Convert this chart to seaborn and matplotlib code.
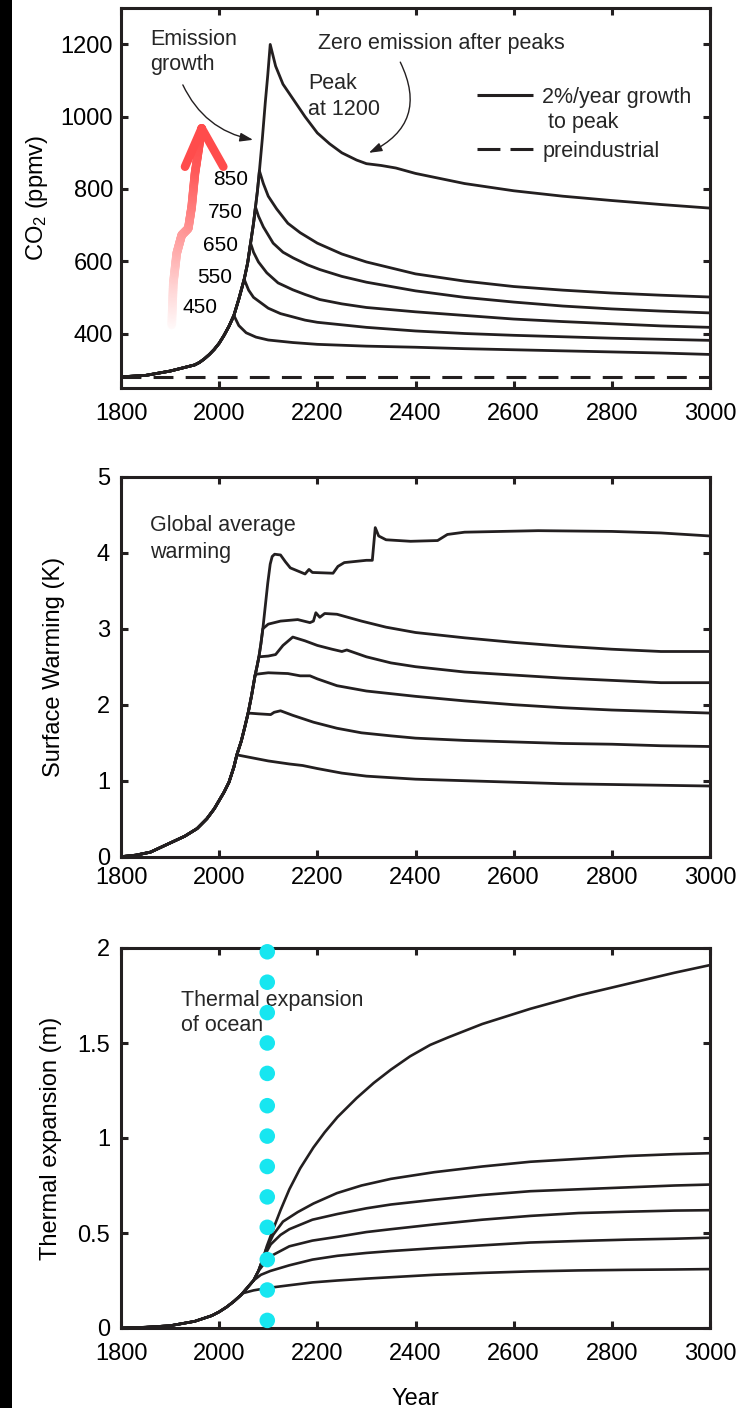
import numpy as np
import matplotlib
matplotlib.use("Agg")
import matplotlib.pyplot as plt
import seaborn as sns
from matplotlib.collections import LineCollection
from matplotlib.colors import LinearSegmentedColormap
from matplotlib.patches import Rectangle

# ---------------- data ----------------
years_ticks = [1800, 2000, 2200, 2400, 2600, 2800, 3000]

# CO2 (ppmv): shared emission-growth path, then decay after each peak
co2_growth_year = [1800, 1850, 1900, 1950, 1960, 1970, 1980, 1990, 2000, 2010, 2020,
                   2030, 2040, 2051, 2058, 2064, 2070, 2074, 2078, 2082, 2088, 2094, 2099, 2104]
co2_growth_ppm = [280, 284, 296, 313, 320, 330, 342, 356, 373, 395, 420,
                  450, 495, 550, 595, 650, 705, 750, 795, 850, 940, 1040, 1115, 1200]
co2_peak_ppm = [450, 550, 650, 750, 850, 1200]
co2_peak_year = [2030, 2051, 2064, 2074, 2082, 2104]
co2_decay_year = [
    [2040, 2055, 2075, 2100, 2150, 2200, 2300, 2400, 2500, 2600, 2700, 2800, 2900, 3000],
    [2060, 2070, 2085, 2100, 2125, 2150, 2175, 2200, 2300, 2400, 2500, 2600, 2700, 2800, 2900, 3000],
    [2070, 2080, 2097, 2120, 2150, 2175, 2205, 2250, 2300, 2400, 2500, 2600, 2700, 2800, 2900, 3000],
    [2080, 2090, 2110, 2130, 2151, 2180, 2205, 2250, 2300, 2400, 2500, 2600, 2700, 2800, 2900, 3000],
    [2090, 2100, 2117, 2140, 2165, 2200, 2250, 2300, 2400, 2500, 2600, 2700, 2800, 2900, 3000],
    [2115, 2130, 2150, 2175, 2200, 2225, 2250, 2280, 2300, 2330, 2360, 2400, 2450, 2500,
     2600, 2700, 2800, 2900, 3000],
]
co2_decay_ppm = [
    [422, 402, 390, 382, 375, 370, 365, 362, 358, 355, 352, 349, 346, 342],
    [520, 500, 485, 470, 455, 446, 437, 431, 417, 407, 400, 395, 391, 387, 384, 381],
    [625, 598, 568, 540, 521, 508, 494, 482, 472, 460, 450, 440, 433, 427, 421, 417],
    [725, 695, 650, 625, 609, 590, 577, 558, 542, 518, 500, 487, 476, 468, 462, 457],
    [815, 780, 745, 705, 679, 650, 620, 598, 565, 545, 530, 520, 512, 506, 501],
    [1140, 1090, 1050, 1000, 955, 925, 900, 880, 870, 865, 858, 843, 829, 815,
     795, 780, 768, 757, 747],
]
co2_preindustrial = 280

# Surface warming (K)
warm_growth_year = [1800, 1830, 1860, 1900, 1930, 1955, 1975, 1990, 2000, 2010, 2020, 2030,
                    2036, 2045, 2052, 2059, 2066, 2073, 2077, 2081, 2085, 2089, 2094, 2099,
                    2104, 2108]
warm_growth_k = [0.0, 0.02, 0.06, 0.18, 0.27, 0.37, 0.50, 0.63, 0.74, 0.85, 0.98, 1.18,
                 1.34, 1.52, 1.70, 1.89, 2.12, 2.38, 2.50, 2.63, 2.80, 3.00, 3.30, 3.60,
                 3.85, 3.95]
warm_branch_year = [
    [2036, 2060, 2100, 2143, 2170, 2200, 2250, 2300, 2400, 2500, 2600, 2700, 2800, 2900, 3000],
    [2059, 2080, 2105, 2112, 2125, 2150, 2192, 2240, 2290, 2350, 2400, 2500, 2600, 2700,
     2800, 2900, 3000],
    [2074, 2100, 2140, 2165, 2185, 2200, 2240, 2300, 2400, 2500, 2600, 2700, 2800, 2900, 3000],
    [2081, 2100, 2115, 2130, 2150, 2175, 2200, 2230, 2250, 2260, 2300, 2350, 2400, 2500,
     2600, 2700, 2800, 2900, 3000],
    [2089, 2100, 2125, 2160, 2185, 2192, 2197, 2205, 2215, 2240, 2290, 2340, 2400, 2500,
     2600, 2700, 2800, 2900, 3000],
    [2108, 2113, 2125, 2135, 2145, 2175, 2183, 2190, 2232, 2242, 2255, 2300, 2312, 2318,
     2325, 2340, 2390, 2445, 2465, 2500, 2650, 2800, 2900, 3000],
]
warm_branch_k = [
    [1.34, 1.31, 1.26, 1.22, 1.20, 1.16, 1.10, 1.06, 1.02, 1.00, 0.98, 0.96, 0.95, 0.94, 0.93],
    [1.89, 1.88, 1.87, 1.90, 1.92, 1.86, 1.77, 1.69, 1.63, 1.59, 1.56, 1.53, 1.51, 1.49,
     1.48, 1.46, 1.45],
    [2.40, 2.42, 2.41, 2.38, 2.38, 2.34, 2.25, 2.18, 2.11, 2.05, 2.00, 1.96, 1.93, 1.91, 1.89],
    [2.63, 2.64, 2.66, 2.78, 2.89, 2.84, 2.78, 2.73, 2.70, 2.72, 2.63, 2.55, 2.50, 2.43,
     2.39, 2.35, 2.32, 2.29, 2.29],
    [3.00, 3.06, 3.10, 3.12, 3.08, 3.10, 3.21, 3.15, 3.20, 3.19, 3.10, 3.02, 2.95, 2.88,
     2.82, 2.77, 2.73, 2.70, 2.70],
    [3.95, 3.98, 3.97, 3.88, 3.80, 3.72, 3.78, 3.74, 3.73, 3.82, 3.87, 3.90, 3.90, 4.33,
     4.22, 4.17, 4.15, 4.16, 4.24, 4.27, 4.29, 4.28, 4.26, 4.22],
]

# Thermal expansion of the ocean (m)
exp_growth_year = [1800, 1850, 1900, 1950, 1985, 2000, 2015, 2030, 2045, 2060, 2070, 2080, 2090, 2097]
exp_growth_m = [0.0, 0.004, 0.012, 0.035, 0.065, 0.085, 0.11, 0.14, 0.175, 0.22, 0.25, 0.30, 0.37, 0.43]
exp_branch_year = [
    [2048, 2070, 2097, 2143, 2190, 2241, 2300, 2438, 2536, 2634, 2732, 2830, 2928, 3000],
    [2070, 2085, 2104, 2143, 2190, 2241, 2300, 2350, 2438, 2536, 2634, 2732, 2830, 2928, 3000],
    [2080, 2095, 2110, 2143, 2190, 2241, 2300, 2350, 2438, 2536, 2634, 2732, 2830, 2928, 3000],
    [2090, 2105, 2125, 2143, 2190, 2241, 2300, 2350, 2438, 2536, 2634, 2732, 2830, 2928, 3000],
    [2095, 2110, 2130, 2160, 2192, 2240, 2290, 2350, 2438, 2536, 2634, 2732, 2830, 2928, 3000],
    [2097, 2110, 2125, 2143, 2165, 2192, 2215, 2241, 2280, 2315, 2350, 2389, 2430, 2467,
     2536, 2634, 2732, 2830, 2928, 3000],
]
exp_branch_m = [
    [0.183, 0.198, 0.21, 0.225, 0.24, 0.25, 0.26, 0.28, 0.29, 0.298, 0.303, 0.306, 0.308, 0.31],
    [0.25, 0.28, 0.30, 0.33, 0.36, 0.38, 0.395, 0.405, 0.42, 0.435, 0.45, 0.458, 0.465, 0.47, 0.475],
    [0.30, 0.35, 0.385, 0.43, 0.46, 0.48, 0.505, 0.52, 0.545, 0.57, 0.59, 0.605, 0.612, 0.618, 0.62],
    [0.37, 0.44, 0.49, 0.52, 0.57, 0.60, 0.63, 0.65, 0.675, 0.70, 0.72, 0.73, 0.74, 0.75, 0.755],
    [0.41, 0.49, 0.56, 0.61, 0.655, 0.71, 0.75, 0.785, 0.82, 0.85, 0.875, 0.89, 0.905, 0.915, 0.92],
    [0.43, 0.52, 0.62, 0.73, 0.84, 0.95, 1.03, 1.11, 1.21, 1.29, 1.36, 1.43, 1.49, 1.53,
     1.60, 1.68, 1.75, 1.81, 1.87, 1.91],
]
marker_year = 2098
marker_m = [1.98, 1.82, 1.66, 1.50, 1.34, 1.17, 1.01, 0.85, 0.69, 0.53, 0.36, 0.20, 0.04]

# ---------------- style ----------------
sns.set_theme(style="ticks")
plt.rcParams["font.family"] = ["Liberation Sans", "DejaVu Sans"]
plt.rcParams["mathtext.fontset"] = "custom"
plt.rcParams["mathtext.rm"] = "Liberation Sans"
plt.rcParams["mathtext.it"] = "Liberation Sans:italic"

INK = "#231F20"
TICK_FS = 17
NOTE_FS = 15.5
LW = 2.0

fig = plt.figure(figsize=(7.56, 14.08), dpi=100, facecolor="white")
fig.patches.append(Rectangle((0, 0), 12 / 756, 1, transform=fig.transFigure,
                             facecolor="black", edgecolor="none", zorder=0))

FW, FH = 756.0, 1408.0
left, width = 121 / FW, 589 / FW
ax1 = fig.add_axes([left, 1 - 387.7 / FH, width, 379.4 / FH])
ax2 = fig.add_axes([left, 1 - 856.7 / FH, width, 380.0 / FH])
ax3 = fig.add_axes([left, 1 - 1328.0 / FH, width, 380.0 / FH])


def style_axes(ax, xpad, ypad):
    ax.set_facecolor("white")
    ax.grid(False)
    ax.set_xlim(1800, 3000)
    ax.set_xticks(years_ticks)
    ax.set_xticklabels([str(y) for y in years_ticks])
    for sp in ax.spines.values():
        sp.set_visible(True)
        sp.set_linewidth(2.2)
        sp.set_color(INK)
    ax.tick_params(direction="in", length=5, width=2.2, color=INK,
                   top=True, right=True, labelsize=TICK_FS, labelcolor="black")
    ax.tick_params(axis="x", pad=xpad)
    ax.tick_params(axis="y", pad=ypad)


def join(g_year, g_val, b_year, b_val):
    first = b_year[0]
    ys = [y for y in g_year if y < first] + list(b_year)
    vs = [v for y, v in zip(g_year, g_val) if y < first] + list(b_val)
    return ys, vs


# ---------------- panel 1: CO2 ----------------
for pk, py, dy, dv in zip(co2_peak_ppm, co2_peak_year, co2_decay_year, co2_decay_ppm):
    xs, vs = join(co2_growth_year, co2_growth_ppm, [py] + dy, [pk] + dv)
    sns.lineplot(x=xs, y=vs, ax=ax1, color=INK, linewidth=LW, estimator=None, sort=False)
sns.lineplot(x=[1800, 3000], y=[co2_preindustrial, co2_preindustrial], ax=ax1,
             color=INK, linewidth=2.2, estimator=None, sort=False)
ax1.lines[-1].set_dashes([6.5, 4.0])
ax1.lines[-1].set_dash_capstyle("butt")

style_axes(ax1, xpad=11, ypad=5.8)
ax1.set_ylim(250, 1300)
ax1.set_yticks([400, 600, 800, 1000, 1200])
ax1.set_ylabel("CO$_2$ (ppmv)", fontsize=TICK_FS, color="black")
ax1.yaxis.set_label_coords(-0.121, 0.5)
ax1.set_xlabel("")

# peak labels
label_x = [1996, 2026, 2038, 2049, 2059]
label_y = [457, 540, 627, 719, 811]
for txt, lx, ly in zip(co2_peak_ppm[:5], label_x, label_y):
    ax1.text(lx, ly, str(txt), fontsize=NOTE_FS - 0.5, ha="right", va="baseline", color="black")

ax1.text(1859, 1198, "Emission", fontsize=NOTE_FS, ha="left", va="baseline")
ax1.text(1859, 1129, "growth", fontsize=NOTE_FS, ha="left", va="baseline")
ax1.text(2202, 1186, "Zero emission after peaks", fontsize=NOTE_FS, ha="left", va="baseline")
ax1.text(2181, 1076, "Peak", fontsize=NOTE_FS, ha="left", va="baseline")
ax1.text(2181, 1005, "at 1200", fontsize=NOTE_FS, ha="left", va="baseline")

arrow_kw = dict(arrowstyle="-|>,head_length=0.65,head_width=0.22", color=INK, lw=1.0,
                shrinkA=0, shrinkB=0)
ax1.annotate("", xy=(2069, 936), xytext=(1926, 1088),
             arrowprops=dict(connectionstyle="arc3,rad=0.25", **arrow_kw))
ax1.annotate("", xy=(2305, 900), xytext=(2369, 1151),
             arrowprops=dict(connectionstyle="arc3,rad=-0.5", **arrow_kw))

# legend keys
ax1.plot([0.6037, 0.700], [0.7715, 0.7715], transform=ax1.transAxes, color=INK, lw=2.2,
         solid_capstyle="butt")
leg_dash, = ax1.plot([0.6037, 0.700], [0.6283, 0.6283], transform=ax1.transAxes,
                     color=INK, lw=2.2)
leg_dash.set_dashes([7.5, 3.3])
leg_dash.set_dash_capstyle("butt")
ax1.text(0.714, 0.7496, "2%/year growth", transform=ax1.transAxes, fontsize=NOTE_FS,
         ha="left", va="baseline")
ax1.text(0.725, 0.6837, "to peak", transform=ax1.transAxes, fontsize=NOTE_FS,
         ha="left", va="baseline")
ax1.text(0.716, 0.609, "preindustrial", transform=ax1.transAxes, fontsize=NOTE_FS,
         ha="left", va="baseline")

# rising gradient arrow
shaft = np.array([(0.0861, 0.1653), (0.0888, 0.2752), (0.0946, 0.3542), (0.1031, 0.4025),
                  (0.1143, 0.4201), (0.1200, 0.4771), (0.1256, 0.5651), (0.1341, 0.6529),
                  (0.1370, 0.6837)])
dense = [shaft[0]]
for a, b in zip(shaft[:-1], shaft[1:]):
    for t in np.linspace(0, 1, 25)[1:]:
        dense.append(a + (b - a) * t)
dense = np.array(dense)
segs = np.stack([dense[:-1], dense[1:]], axis=1)
seg_len = np.hypot(*(dense[1:] - dense[:-1]).T)
pos = np.cumsum(seg_len) / seg_len.sum()
rise_cmap = LinearSegmentedColormap.from_list(
    "rise", ["#FFFAFA", "#FFD6D6", "#FFAAAA", "#FF8080", "#FF5A5A", "#FF4A4A"])
shaft_lc = LineCollection(segs, colors=rise_cmap(pos), linewidths=6.2, capstyle="round",
                          joinstyle="round", transform=ax1.transAxes, zorder=3)
ax1.add_collection(shaft_lc)
head = [[(0.1087, 0.5825), (0.1370, 0.6837)], [(0.1737, 0.5825), (0.1370, 0.6837)]]
head_lc = LineCollection(head, colors="#FF4C4C", linewidths=6.2, capstyle="round",
                         joinstyle="round", transform=ax1.transAxes, zorder=3)
ax1.add_collection(head_lc)

# ---------------- panel 2: surface warming ----------------
for by, bv in zip(warm_branch_year, warm_branch_k):
    xs, vs = join(warm_growth_year, warm_growth_k, by, bv)
    sns.lineplot(x=xs, y=vs, ax=ax2, color=INK, linewidth=LW, estimator=None, sort=False)
style_axes(ax2, xpad=7.5, ypad=8)
ax2.set_ylim(0, 5)
ax2.set_yticks([0, 1, 2, 3, 4, 5])
ax2.set_ylabel("Surface Warming (K)", fontsize=TICK_FS, color="black")
ax2.yaxis.set_label_coords(-0.095, 0.5)
ax2.set_xlabel("")
ax2.text(1859, 4.29, "Global average", fontsize=NOTE_FS, ha="left", va="baseline")
ax2.text(1859, 3.93, "warming", fontsize=NOTE_FS, ha="left", va="baseline")

# ---------------- panel 3: thermal expansion ----------------
for by, bv in zip(exp_branch_year, exp_branch_m):
    xs, vs = join(exp_growth_year, exp_growth_m, by, bv)
    sns.lineplot(x=xs, y=vs, ax=ax3, color=INK, linewidth=1.9, estimator=None, sort=False)
ax3.text(1922, 1.695, "Thermal expansion", fontsize=NOTE_FS, ha="left", va="baseline", zorder=4)
ax3.text(1922, 1.563, "of ocean", fontsize=NOTE_FS, ha="left", va="baseline", zorder=4)
sns.scatterplot(x=[marker_year] * len(marker_m), y=marker_m, ax=ax3, s=125,
                color="#17E6F0", edgecolor="none", zorder=5, clip_on=False)
style_axes(ax3, xpad=10.8, ypad=8)
ax3.set_ylim(0, 2)
ax3.set_yticks([0, 0.5, 1, 1.5, 2])
ax3.set_yticklabels(["0", "0.5", "1", "1.5", "2"])
ax3.set_ylabel("Thermal expansion (m)", fontsize=TICK_FS, color="black")
ax3.yaxis.set_label_coords(-0.100, 0.5)
ax3.set_xlabel("Year", fontsize=TICK_FS, color="black")
ax3.xaxis.set_label_coords(0.5, -0.158)

fig.savefig("out.png", dpi=100, facecolor="white")
